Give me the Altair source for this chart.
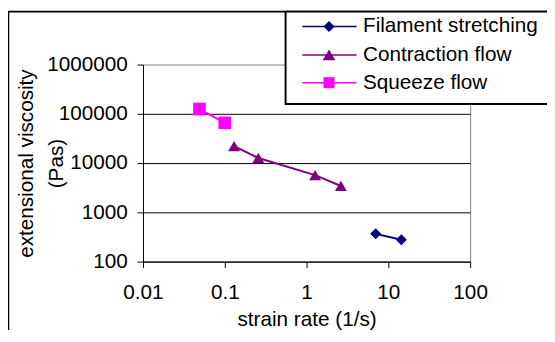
import altair as alt
import pandas as pd

series_names = ["Filament stretching", "Contraction flow", "Squeeze flow"]
filament_rate = [7.0, 14.4]
filament_visc = [366, 278]
contraction_rate = [0.13, 0.257, 1.27, 2.63]
contraction_visc = [22000, 12700, 5700, 3430]
squeeze_rate = [0.049, 0.1]
squeeze_visc = [124700, 65500]
x_ticks = [0.01, 0.1, 1, 10, 100]
y_ticks = [100, 1000, 10000, 100000, 1000000]
colors = ["#000080", "#800080", "#FF00FF"]
shapes = ["diamond", "triangle-up", "square"]
sizes = [125, 165, 125]

rows = []
for name, xs, ys in zip(series_names,
                        [filament_rate, contraction_rate, squeeze_rate],
                        [filament_visc, contraction_visc, squeeze_visc]):
    for xv, yv in zip(xs, ys):
        rows.append({"series": name, "rate": xv, "visc": yv})
df = pd.DataFrame(rows)

FONT = "Liberation Sans"
FS = 21
W, H = 332, 200

x_axis = alt.Axis(values=x_ticks, format="~g", tickSize=6, tickColor="black",
                  domainColor="black", labelFont=FONT, labelFontSize=FS,
                  labelColor="black", labelPadding=14, labelFlush=False,
                  labelOverlap=False, title="strain rate (1/s)", titleFont=FONT,
                  titleFontSize=FS, titleFontWeight="normal", titleColor="black",
                  titlePadding=7, grid=True, gridWidth=1,
                  gridColor={"condition": {"test": "datum.value >= 100", "value": "#808080"},
                             "value": "transparent"})
y_axis = alt.Axis(values=y_ticks, format="d", tickSize=6, tickColor="black",
                  domainColor="black", labelFont=FONT, labelFontSize=FS,
                  labelColor="black", labelPadding=10, labelFlush=False,
                  labelOverlap=False, title=["extensional viscosity", "(Pas)"],
                  titleFont=FONT, titleFontSize=FS, titleFontWeight="normal",
                  titleColor="black", titleLineHeight=30, titleAngle=270,
                  titleAlign="center", titleBaseline="middle",
                  titleX=-118, titleY=100, grid=True, gridWidth=1,
                  gridColor={"condition": {"test": "datum.value >= 1000000", "value": "#808080"},
                             "value": "black"})

x_enc = alt.X("rate:Q", scale=alt.Scale(type="log", domain=[0.01, 100], nice=False), axis=x_axis)
y_enc = alt.Y("visc:Q", scale=alt.Scale(type="log", domain=[100, 1000000], nice=False), axis=y_axis)
color_enc = alt.Color("series:N", scale=alt.Scale(domain=series_names, range=colors), legend=None)

base = alt.Chart(df)
lines = base.mark_line(strokeWidth=2).encode(x=x_enc, y=y_enc, color=color_enc, detail="series:N")
points = base.mark_point(filled=True, opacity=1).encode(
    x=x_enc, y=y_enc, color=color_enc,
    shape=alt.Shape("series:N", scale=alt.Scale(domain=series_names, range=shapes), legend=None),
    size=alt.Size("series:N", scale=alt.Scale(domain=series_names, range=sizes), legend=None),
)

one = pd.DataFrame({"k": [0]})
frame = alt.Chart(one).mark_rect(fill="transparent", stroke="black", strokeWidth=2).encode(
    x=alt.value(-136.7), x2=alt.value(460), y=alt.value(-53.7), y2=alt.value(330))
legend_box = alt.Chart(one).mark_rect(fill="white", stroke="black", strokeWidth=2).encode(
    x=alt.value(144.7), x2=alt.value(460), y=alt.value(-53.7), y2=alt.value(40))

legend_rows_y = [24.3, 53.2, 81.4]
legend_layers = []
for i, name in enumerate(series_names):
    yy = legend_rows_y[i] - 63
    legend_layers.append(alt.Chart(one).mark_rule(strokeWidth=1.5, color=colors[i]).encode(
        x=alt.value(161.7), x2=alt.value(216.7), y=alt.value(yy)))
    legend_layers.append(alt.Chart(one).mark_point(filled=True, opacity=1, color=colors[i],
                                                   shape=shapes[i], size=sizes[i]).encode(
        x=alt.value(188.8), y=alt.value(yy)))
    legend_layers.append(alt.Chart(one).mark_text(align="left", baseline="middle", font=FONT,
                                                  fontSize=FS, color="black").encode(
        x=alt.value(223.3), y=alt.value(yy), text=alt.value(name)))

chart = alt.layer(frame, lines, points, legend_box, *legend_layers).properties(
    width=W, height=H,
    autosize=alt.AutoSizeParams(type="none"),
    padding={"left": 137, "top": 55, "right": 78, "bottom": 67},
    background="white",
).configure_view(stroke="transparent")

chart.save("out.html", embed_options={"renderer": "svg", "actions": False})
